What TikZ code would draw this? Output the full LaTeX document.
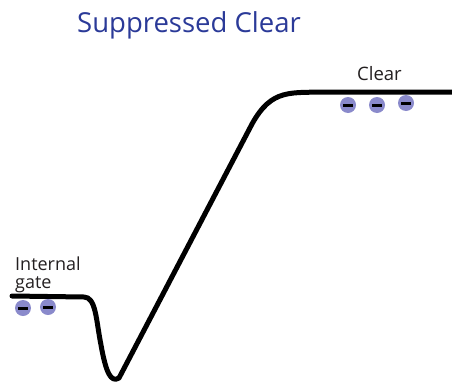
\documentclass[tikz,border=0pt]{standalone}
\usepackage{fontspec}
\setmainfont{Open Sans}
\definecolor{titleblue}{HTML}{2B3A98}
\definecolor{elec}{HTML}{8A8ACB}
\definecolor{txtgray}{HTML}{231F20}
\tikzset{
  electron/.style={circle, fill=elec, minimum size=16pt, inner sep=0pt,
    path picture={\draw[line width=3pt, black] ([xshift=-5pt]path picture bounding box.center) -- ([xshift=5pt]path picture bounding box.center);}},
  lbl/.style={font=\fontsize{18}{18}\selectfont, text=txtgray, inner sep=0pt},
  curve/.style={line width=5pt, line cap=round, line join=round, black}
}
\begin{document}
\begin{tikzpicture}[x=1pt,y=-1pt]
\useasboundingbox (0,0) rectangle (452,383);
\node[font=\fontsize{27.5}{27.5}\selectfont, text=titleblue, anchor=base west, inner sep=0pt] (title) at (77,32) {Suppressed Clear};
\node[lbl, font=\fontsize{18.5}{18.5}\selectfont, anchor=base west] (clear) at (357,80) {Clear};
\node[lbl, anchor=base west] (ig) at (15,270) {Internal};
\node[lbl, anchor=base west] (ig2) at (15,288) {gate};
\coordinate (s) at (12,296);
\coordinate (e) at (452,92);
\draw[curve] (s) -- (84,297) .. controls (96,297) and (96,320) .. (101,345)
  .. controls (106,373) and (111,383) .. (119,378)
  -- (252,124) .. controls (272,88) and (290,93) .. (330,92) -- (e);
\node[electron] (c1) at (348,105) {};
\node[electron] (c2) at (377,105) {};
\node[electron] (c3) at (406,103) {};
\node[electron] (g1) at (23,308) {};
\node[electron] (g2) at (48,307) {};
\end{tikzpicture}
\end{document}
